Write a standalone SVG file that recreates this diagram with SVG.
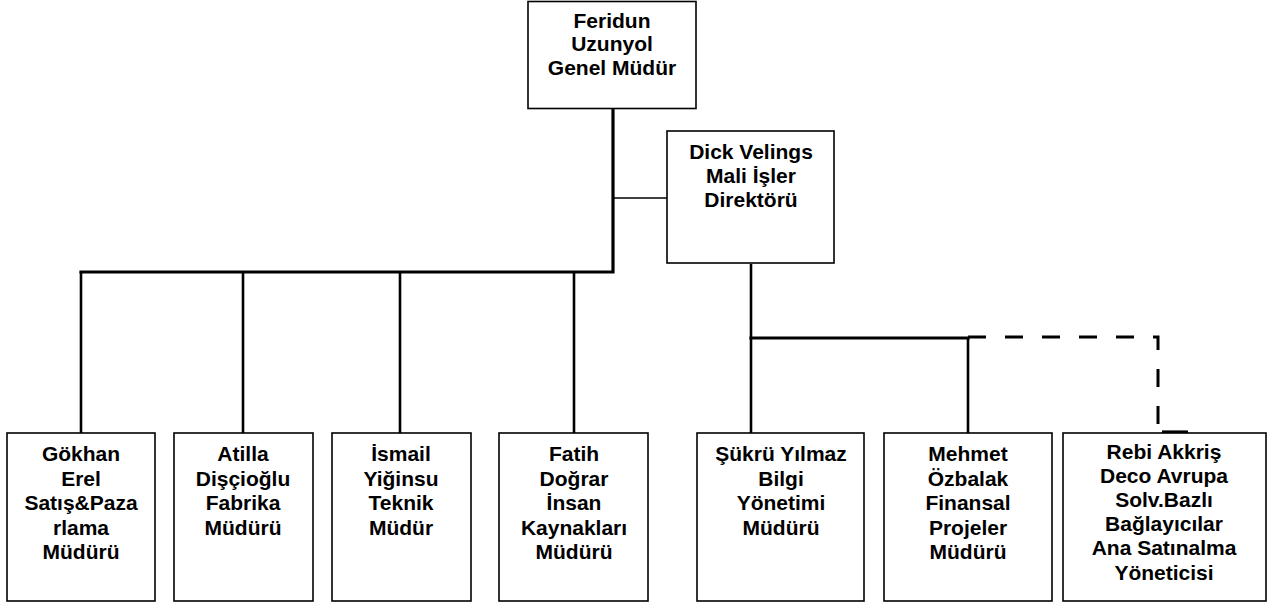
<svg xmlns="http://www.w3.org/2000/svg" width="1282" height="604" viewBox="0 0 1282 604">
<style>
.box{fill:#fff;stroke:#000;stroke-width:1.6}
.t{font-family:"Liberation Sans",Arial,sans-serif;font-weight:bold;font-size:21px;text-anchor:middle;fill:#000}
.thick{stroke:#000;stroke-width:3.2;fill:none;stroke-linecap:square}
.med{stroke:#000;stroke-width:2.6;fill:none}
.thin{stroke:#000;stroke-width:1.6;fill:none}
.dash{stroke:#000;stroke-width:3;fill:none;stroke-dasharray:18 19}
</style>
<rect width="1282" height="604" fill="#fff"/>
<g id="connectors">
<path class="thick" d="M613,110 V272 H81"/>
<path class="med" d="M81,272 V433 M243,272 V433 M400,272 V433 M574,272 V433"/>
<path class="thin" d="M613,198 H667"/>
<path class="med" d="M751,264 V433"/>
<path class="thick" d="M751,338 H968"/>
<path class="med" d="M968,338 V433"/>
<path class="dash" d="M968,337 H1158 V430"/>
<path class="thick" d="M1162,432 H1188" style="stroke-linecap:butt"/>
</g>
<g id="n-feridun">
<rect class="box" x="528" y="1.5" width="168" height="107"/>
<text class="t" x="612" y="28">Feridun</text>
<text class="t" x="612" y="51">Uzunyol</text>
<text class="t" x="612" y="75">Genel Müdür</text>
</g>
<g id="n-dick">
<rect class="box" x="667" y="131" width="167" height="132"/>
<text class="t" x="751" y="159">Dick Velings</text>
<text class="t" x="751" y="183">Mali İşler</text>
<text class="t" x="751" y="207">Direktörü</text>
</g>
<g id="n-gokhan">
<rect class="box" x="7" y="433" width="148" height="168"/>
<text class="t" x="81" y="461">Gökhan</text>
<text class="t" x="81" y="486">Erel</text>
<text class="t" x="81" y="510">Satış&amp;Paza</text>
<text class="t" x="81" y="535">rlama</text>
<text class="t" x="81" y="559">Müdürü</text>
</g>
<g id="n-atilla">
<rect class="box" x="174" y="433" width="139" height="168"/>
<text class="t" x="243" y="461">Atilla</text>
<text class="t" x="243" y="486">Dişçioğlu</text>
<text class="t" x="243" y="510">Fabrika</text>
<text class="t" x="243" y="535">Müdürü</text>
</g>
<g id="n-ismail">
<rect class="box" x="332" y="433" width="139" height="168"/>
<text class="t" x="401" y="461">İsmail</text>
<text class="t" x="401" y="486">Yiğinsu</text>
<text class="t" x="401" y="510">Teknik</text>
<text class="t" x="401" y="535">Müdür</text>
</g>
<g id="n-fatih">
<rect class="box" x="499" y="433" width="149" height="168"/>
<text class="t" x="574" y="461">Fatih</text>
<text class="t" x="574" y="486">Doğrar</text>
<text class="t" x="574" y="510">İnsan</text>
<text class="t" x="574" y="535">Kaynakları</text>
<text class="t" x="574" y="559">Müdürü</text>
</g>
<g id="n-sukru">
<rect class="box" x="697" y="433" width="167" height="168"/>
<text class="t" x="781" y="461">Şükrü Yılmaz</text>
<text class="t" x="781" y="486">Bilgi</text>
<text class="t" x="781" y="510">Yönetimi</text>
<text class="t" x="781" y="535">Müdürü</text>
</g>
<g id="n-mehmet">
<rect class="box" x="884" y="433" width="168" height="168"/>
<text class="t" x="968" y="461">Mehmet</text>
<text class="t" x="968" y="486">Özbalak</text>
<text class="t" x="968" y="510">Finansal</text>
<text class="t" x="968" y="535">Projeler</text>
<text class="t" x="968" y="559">Müdürü</text>
</g>
<g id="n-rebi">
<rect class="box" x="1063" y="433" width="203" height="168"/>
<text class="t" x="1164" y="459">Rebi Akkriş</text>
<text class="t" x="1164" y="483">Deco Avrupa</text>
<text class="t" x="1164" y="507">Solv.Bazlı</text>
<text class="t" x="1164" y="531">Bağlayıcılar</text>
<text class="t" x="1164" y="555">Ana Satınalma</text>
<text class="t" x="1164" y="580">Yöneticisi</text>
</g>
</svg>
